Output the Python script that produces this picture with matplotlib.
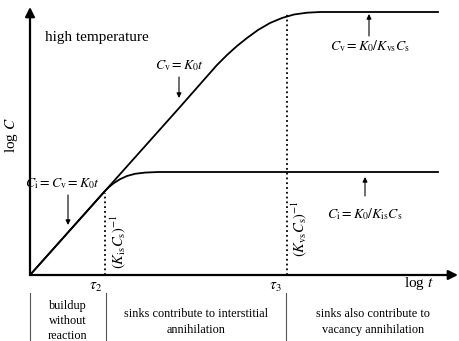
import matplotlib
matplotlib.use("Agg")
import matplotlib.pyplot as plt

plt.rcParams['font.family'] = ['Liberation Serif', 'DejaVu Serif']
plt.rcParams['mathtext.fontset'] = 'stix'

# schematic log C vs log t (arbitrary units)
cv_logt = [0, 75, 150, 172, 187, 197, 207, 217, 228, 240, 252, 264, 277, 290, 408]
cv_logc = [0, 84, 168, 193, 210, 220, 229, 237, 245, 252, 257, 260.5, 262.3, 263, 263]

ci_logt = [0, 75, 79, 84, 90, 97, 105, 115, 128, 145, 408]
ci_logc = [0, 84, 88, 92, 95.8, 99, 101.2, 102.4, 103, 103, 103]

tau2 = 75
tau3 = 257
tau_labels = [r'$\tau_2$', r'$\tau_3$']

# regime boundaries below the axis and their captions
regime_edges = [0, 76, 256]
regime_text = ['buildup\nwithout\nreaction',
               'sinks contribute to interstitial\nannihilation',
               'sinks also contribute to\nvacancy annihilation']
regime_x = [38, 166, 343]
regime_y = [-46, -47, -47]

fig = plt.figure(figsize=(4.6, 3.41), dpi=100)
ax = fig.add_axes([0, 0, 1, 1])
ax.set_xlim(-30, 430)
ax.set_ylim(-66, 275)
ax.axis('off')

# axes with arrows
big = dict(arrowstyle='-|>', mutation_scale=14, lw=1.6, color='black', shrinkA=0, shrinkB=0)
ax.annotate('', xy=(0, 268), xytext=(0, 0), arrowprops=big)
ax.annotate('', xy=(428, 0), xytext=(0, 0), arrowprops=big)

# curves
ax.plot(cv_logt, cv_logc, color='black', lw=1.3, solid_joinstyle='round')
ax.plot(ci_logt, ci_logc, color='black', lw=1.3, solid_joinstyle='round')

# characteristic times
ax.plot([tau2, tau2], [0, ci_logc[1] - 2], color='black', ls=':', lw=1.3)
ax.plot([tau3, tau3], [0, cv_logc[-1] - 1], color='black', ls=':', lw=1.3)
ax.text(tau2 - 9, -12, tau_labels[0], fontsize=11, ha='center', va='center')
ax.text(tau3 - 12, -12, tau_labels[1], fontsize=11, ha='center', va='center')

ax.text(88, 33, r'$(K_{\mathrm{is}}C_{\mathrm{s}})^{-1}$', fontsize=10.5,
        rotation=90, ha='center', va='center')
ax.text(269, 47, r'$(K_{\mathrm{vs}}C_{\mathrm{s}})^{-1}$', fontsize=10.5,
        rotation=90, ha='center', va='center')

# axis labels
ax.text(-18, 140, r'log $C$', fontsize=11, rotation=90, ha='center', va='center')
ax.text(389, -8, r'log $t$', fontsize=11, ha='center', va='center')
ax.text(15, 238, 'high temperature', fontsize=11, ha='left', va='center')

# curve annotations
small = dict(arrowstyle='-|>', mutation_scale=7, lw=0.8, color='black', shrinkA=0, shrinkB=0)
ax.text(150, 209, r'$C_{\mathrm{v}} = K_0t$', fontsize=10, ha='center', va='center')
ax.annotate('', xy=(149, 177), xytext=(149, 198), arrowprops=small)

ax.text(340, 229, r'$C_{\mathrm{v}} = K_0/K_{\mathrm{vs}}C_{\mathrm{s}}$', fontsize=10,
        ha='center', va='center')
ax.annotate('', xy=(339, 261), xytext=(339, 239), arrowprops=small)

ax.text(33, 91, r'$C_{\mathrm{i}} = C_{\mathrm{v}} = K_0t$', fontsize=10,
        ha='center', va='center')
ax.annotate('', xy=(38, 50), xytext=(38, 80), arrowprops=small)

ax.text(335, 61, r'$C_{\mathrm{i}} = K_0/K_{\mathrm{is}}C_{\mathrm{s}}$', fontsize=10,
        ha='center', va='center')
ax.annotate('', xy=(335, 98), xytext=(335, 79), arrowprops=small)

# regimes
for xe in regime_edges:
    ax.plot([xe, xe], [-18, -66], color='#555555', lw=0.8)
for txt, x, y in zip(regime_text, regime_x, regime_y):
    ax.text(x, y, txt, fontsize=8.8, ha='center', va='center', linespacing=1.35)

fig.savefig('out.png', dpi=100)
